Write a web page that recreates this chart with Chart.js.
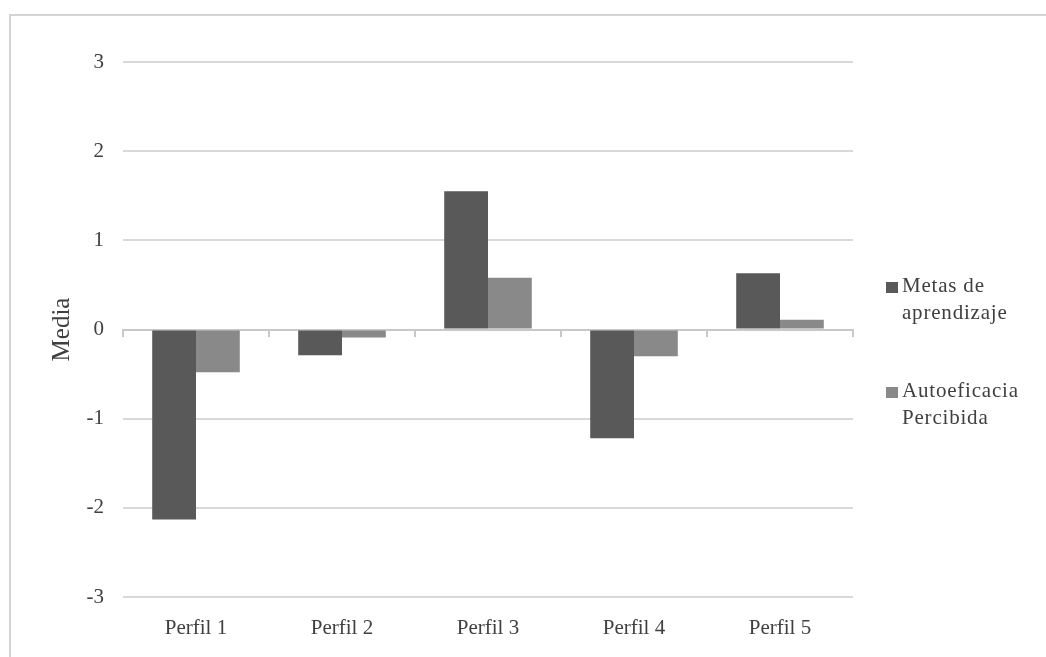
<!DOCTYPE html>
<html>
<head>
<meta charset="utf-8">
<script src="https://cdn.jsdelivr.net/npm/chart.js@4.4.1/dist/chart.umd.min.js"></script>
<style>
    body { margin: 0; background: #fff; }
    #wrap { position: relative; width: 1046px; height: 657px; overflow: hidden; }
    #frame { position: absolute; left: 9px; top: 14px; width: 1100px; height: 700px; border-top: 2px solid #d4d4d4; border-left: 2px solid #d4d4d4; }
    #chart { position: absolute; left: 0; top: 0; }
    .item { position: absolute; left: 886px; font-family: "Liberation Serif", serif; font-size: 21px; line-height: 27px; color: #404040; padding-left: 16px; letter-spacing: 0.8px; }
    .item .sw { position: absolute; left: 0; top: 10px; width: 12px; height: 11px; }
</style>
</head>
<body>
<div id="wrap">
    <div id="frame"></div>
    <canvas id="chart" width="1046" height="657"></canvas>
    <div id="legend"></div>
</div>
<script>
const categories = ['Perfil 1', 'Perfil 2', 'Perfil 3', 'Perfil 4', 'Perfil 5'];
const seriesNames = [['Metas de', 'aprendizaje'], ['Autoeficacia', 'Percibida']];
const metas = [-2.13, -0.29, 1.55, -1.22, 0.63];
const autoeficacia = [-0.48, -0.09, 0.58, -0.30, 0.11];
const colors = ['#595959', '#898989'];

const font = 'Liberation Serif';

// legend (html, text wraps like the original)
const legendTops = [272, 377];
seriesNames.forEach(function(lines, i) {
    var el = document.createElement('div');
    el.className = 'item';
    el.style.top = legendTops[i] + 'px';
    el.innerHTML = '<span class="sw" style="background:' + colors[i] + '"></span>' + lines.join('<br>');
    document.getElementById('legend').appendChild(el);
});

var ctx = document.getElementById('chart').getContext('2d');

new Chart(ctx, {
    type: 'bar',
    data: {
        labels: categories,
        datasets: [{
            label: seriesNames[0].join(' '),
            data: metas,
            backgroundColor: colors[0],
            categoryPercentage: 0.6,
            barPercentage: 1
        }, {
            label: seriesNames[1].join(' '),
            data: autoeficacia,
            backgroundColor: colors[1],
            categoryPercentage: 0.6,
            barPercentage: 1
        }]
    },
    options: {
        responsive: false,
        animation: false,
        layout: { padding: { left: 47, top: 62, right: 193, bottom: 0 } },
        plugins: { legend: { display: false }, tooltip: { enabled: false } },
        scales: {
            y: {
                min: -3,
                max: 3,
                ticks: { stepSize: 1, padding: 19, color: '#404040', font: { family: font, size: 21 } },
                grid: { color: '#d9d9d9', lineWidth: 2, drawTicks: false },
                border: { display: false },
                title: { display: true, text: 'Media', color: '#404040', padding: 0, font: { family: font, size: 25 } },
                afterFit: function(scale) { scale.width = 76; }
            },
            x: {
                grid: { display: false },
                border: { display: false },
                ticks: { padding: 11, color: '#404040', font: { family: font, size: 21 } },
                afterFit: function(scale) { scale.height = 60; }
            },
            // zero line with the little category ticks
            x0: {
                type: 'category',
                axis: 'x',
                position: { y: 0 },
                offset: true,
                grid: { offset: true, drawOnChartArea: false, tickLength: 6, color: '#c8c8c8', lineWidth: 2 },
                border: { display: true, color: '#c8c8c8', width: 2 },
                ticks: { display: false }
            }
        }
    }
});
</script>
</body>
</html>
